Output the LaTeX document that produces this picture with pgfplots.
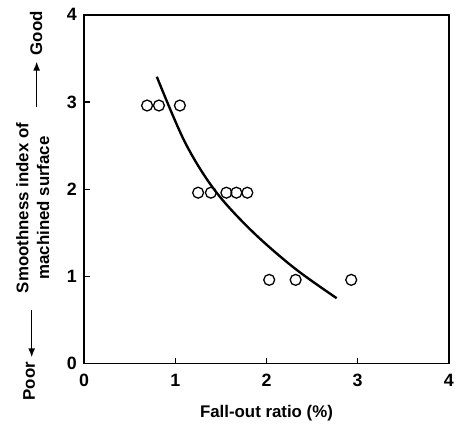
\documentclass[border=0pt]{standalone}
\usepackage{pgfplots}
\pgfplotsset{compat=1.18}
\usepackage{fontspec}
\setmainfont{Liberation Sans}
\usetikzlibrary{arrows.meta}
\begin{document}
\begin{tikzpicture}
\begin{axis}[
  width=368pt, height=352pt, scale only axis,
  xmin=0, xmax=4, ymin=0, ymax=4,
  xtick={0,1,2,3,4}, ytick={0,1,2,3,4},
  tick align=inside, major tick length=6pt,
  xtick pos=bottom, ytick pos=left,
  axis line style={line width=1.8pt},
  every tick/.style={line width=1.2pt, black},
  tick label style={font=\fontsize{18}{18}\selectfont\bfseries},
  /pgf/number format/assume math mode=true,
  xticklabel style={yshift=-7pt},
  yticklabel style={xshift=-4pt},
  xlabel={Fall-out ratio (\%)},
  xlabel style={font=\fontsize{17}{17}\selectfont\bfseries, at={(axis description cs:0.5,0)}, anchor=center, yshift=-50pt},
  clip=false,
]
\addplot[black, line width=2.4pt, smooth, tension=0.55] coordinates {
 (0.797,3.29) (1.105,2.54) (1.431,1.99) (1.83,1.53) (2.30,1.10) (2.77,0.75)
};
\addplot[only marks, mark=o, mark size=5.5pt, mark options={line width=1.3pt, black}] coordinates {
 (0.69,2.96) (0.82,2.96) (1.05,2.96)
 (1.25,1.96) (1.39,1.96) (1.56,1.96) (1.67,1.96) (1.79,1.96)
 (2.03,0.96) (2.32,0.96) (2.93,0.96)
};
\node[rotate=90, font=\fontsize{17}{21}\selectfont\bfseries, align=center, anchor=center]
  at ([xshift=-52pt]rel axis cs:0,0.446) {Smoothness index of\\machined surface};
\node[rotate=90, font=\fontsize{17}{21}\selectfont\bfseries, anchor=center]
  at ([xshift=-48.5pt]rel axis cs:0,0.947) {Good};
\node[rotate=90, font=\fontsize{17}{21}\selectfont\bfseries, anchor=center]
  at ([xshift=-55.5pt]rel axis cs:0,-0.051) {Poor};
\draw[-{Latex[length=9pt,width=7pt]}, line width=1.3pt] ([xshift=-48pt]rel axis cs:0,0.736) -- ([xshift=-48pt]rel axis cs:0,0.866);
\draw[-{Latex[length=9pt,width=7pt]}, line width=1.3pt] ([xshift=-53pt]rel axis cs:0,0.153) -- ([xshift=-53pt]rel axis cs:0,0.018);
\path[draw=none] ([xshift=-85pt,yshift=-64pt]rel axis cs:0,0) rectangle ([xshift=4pt,yshift=15pt]rel axis cs:1,1);
\end{axis}
\end{tikzpicture}
\end{document}
